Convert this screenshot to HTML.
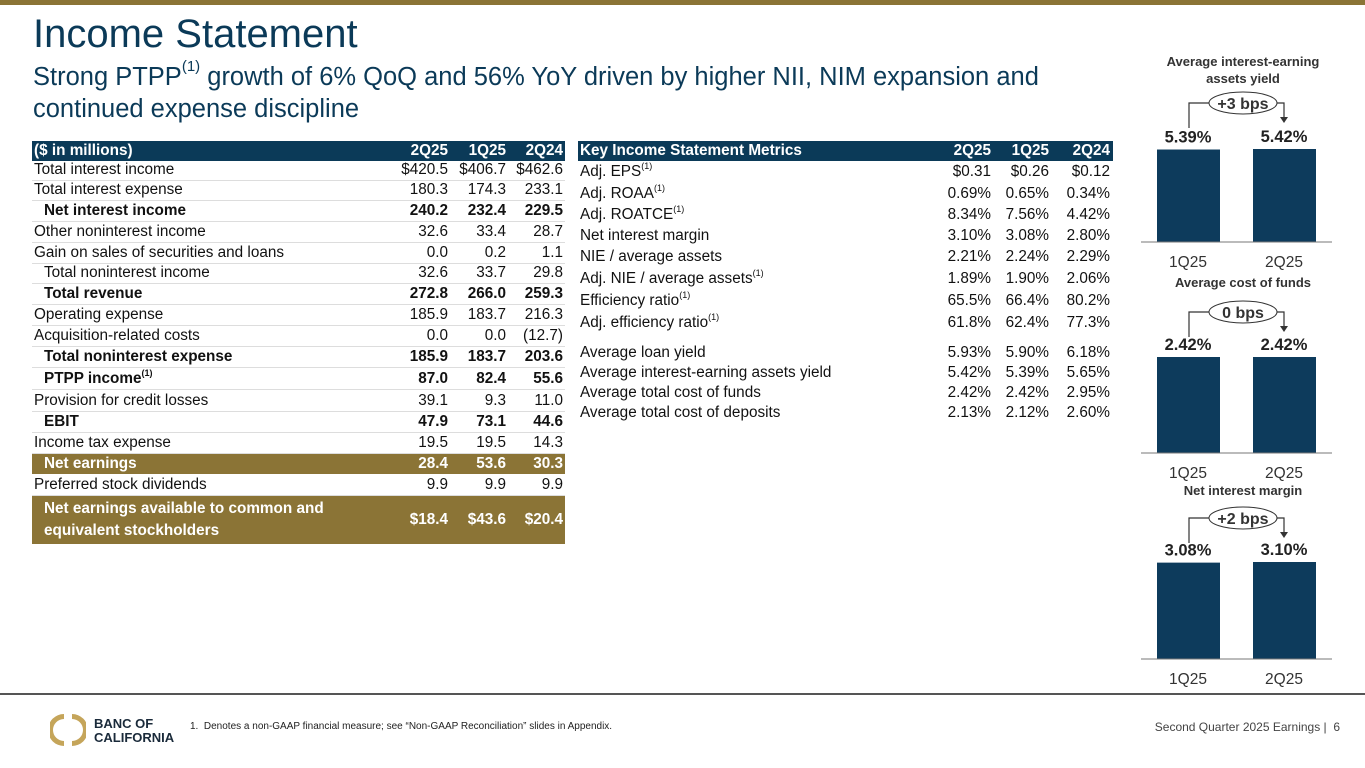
<!DOCTYPE html>
<html><head><meta charset="utf-8">
<style>
body{margin:0;width:1365px;height:768px;overflow:hidden;background:#fff;font-family:"Liberation Sans",Arial,sans-serif;position:relative;color:#111}
.a{position:absolute;white-space:nowrap}
.row{position:absolute;height:20px;font-size:15.3px;line-height:20px;color:#111}
.row span{position:absolute;top:0}
.row sup{font-size:9px;vertical-align:top;line-height:0;position:relative;top:4px}
.hdr{background:#0b3a58;color:#fff;font-weight:bold}
.gold{background:#8b7436;color:#fff;font-weight:bold}
.b{font-weight:bold}
</style></head><body>
<div class="a" style="left:0;top:0;width:1365px;height:5px;background:#8b7436"></div>
<div class="a" style="left:33px;top:12px;font-size:40px;color:#0b3a58">Income Statement</div>
<div class="a" style="left:33px;top:61px;font-size:25.5px;line-height:32px;color:#0b3a58">Strong PTPP<sup style="font-size:15px;vertical-align:top;line-height:0;position:relative;top:6px">(1)</sup> growth of 6% QoQ and 56% YoY driven by higher NII, NIM expansion and<br>continued expense discipline</div>

<div id="left"></div>
<div id="right"></div>

<svg id="charts" class="a" style="left:1130px;top:0" width="235" height="700"></svg>

<div class="a" style="left:0;top:693px;width:1365px;height:2px;background:#555"></div>
<svg class="a" style="left:50px;top:712px" width="36" height="36">
<path d="M14 2 A16 16 0 0 0 14 34 L14 29 A11 11 0 0 1 14 7 Z" fill="#c5a55a"/>
<path d="M22 2 A16 16 0 0 1 22 34 L22 29 A11 11 0 0 0 22 7 Z" fill="#c5a55a"/>
</svg>
<div class="a" style="left:94px;top:717px;font-size:13px;font-weight:bold;line-height:14px;color:#1a2a3a">BANC OF<br>CALIFORNIA</div>
<div class="a" style="left:190px;top:721px;font-size:10px;color:#222">1.&nbsp; Denotes a non-GAAP financial measure; see “Non-GAAP Reconciliation” slides in Appendix.</div>
<div class="a" style="right:25px;top:720px;font-size:12px;color:#444">Second Quarter 2025 Earnings |&nbsp; 6</div>

<script>
const leftRows=[
["($ in millions)","2Q25","1Q25","2Q24","hdr",151],
["Total interest income","$420.5","$406.7","$462.6","",170],
["Total interest expense","180.3","174.3","233.1","",190],
["Net interest income","240.2","232.4","229.5","b i",211],
["Other noninterest income","32.6","33.4","28.7","",232],
["Gain on sales of securities and loans","0.0","0.2","1.1","",253],
["Total noninterest income","32.6","33.7","29.8","i",273],
["Total revenue","272.8","266.0","259.3","b i",294],
["Operating expense","185.9","183.7","216.3","",315],
["Acquisition-related costs","0.0","0.0","(12.7)","",336],
["Total noninterest expense","185.9","183.7","203.6","b i",357],
["PTPP income<sup>(1)</sup>","87.0","82.4","55.6","b i",379],
["Provision for credit losses","39.1","9.3","11.0","",401],
["EBIT","47.9","73.1","44.6","b i",422],
["Income tax expense","19.5","19.5","14.3","",443],
["Net earnings","28.4","53.6","30.3","gold i",464],
["Preferred stock dividends","9.9","9.9","9.9","",485]
];
const rightRows=[
["Key Income Statement Metrics","2Q25","1Q25","2Q24","hdr",151],
["Adj. EPS<sup>(1)</sup>","$0.31","$0.26","$0.12","",172],
["Adj. ROAA<sup>(1)</sup>","0.69%","0.65%","0.34%","",194],
["Adj. ROATCE<sup>(1)</sup>","8.34%","7.56%","4.42%","",215],
["Net interest margin","3.10%","3.08%","2.80%","",236],
["NIE / average assets","2.21%","2.24%","2.29%","",257],
["Adj. NIE / average assets<sup>(1)</sup>","1.89%","1.90%","2.06%","",279],
["Efficiency ratio<sup>(1)</sup>","65.5%","66.4%","80.2%","",301],
["Adj. efficiency ratio<sup>(1)</sup>","61.8%","62.4%","77.3%","",323],
["Average loan yield","5.93%","5.90%","6.18%","",353],
["Average interest-earning assets yield","5.42%","5.39%","5.65%","",373],
["Average total cost of funds","2.42%","2.42%","2.95%","",393],
["Average total cost of deposits","2.13%","2.12%","2.60%","",413]
];
function buildTable(host,rows,x0,w,cols,line){
  rows.forEach((r,i)=>{
    const d=document.createElement('div');
    
    
    const cls=r[4];
    d.className='row '+(cls.includes('hdr')?'hdr':'')+(cls.includes('gold')?' gold':'')+(cls.includes('b')&&!cls.includes('hdr')?' b':'');
    d.style.left=x0+'px';d.style.width=w+'px';d.style.top=(r[5]-10)+'px';
    if(line&&i>0&&!cls.includes('gold'))d.style.borderBottom='1px solid #ddd';
    const ind=cls.includes('i')?12:2;
    let h=`<span style="left:${ind}px">${r[0]}</span>`;
    for(let c=0;c<3;c++)h+=`<span style="right:${x0+w-cols[c]}px">${r[c+1]}</span>`;
    d.innerHTML=h;host.appendChild(d);
  });
}
buildTable(document.getElementById('left'),leftRows,32,533,[448,506,563],true);
buildTable(document.getElementById('right'),rightRows,578,535,[991,1049,1110],false);
const last=document.createElement('div');


last.className='row gold';
last.style.cssText='left:32px;width:533px;top:496px;height:48px;line-height:22px';
last.innerHTML='<span style="left:12px;top:2px">Net earnings available to common and<br>equivalent stockholders</span><span style="right:117px;top:13px">$18.4</span><span style="right:59px;top:13px">$43.6</span><span style="right:2px;top:13px">$20.4</span>';
document.getElementById('left').appendChild(last);

// charts
const chartTitles=[["Average interest-earning","assets yield"],["Average cost of funds"],["Net interest margin"]];
const chartCategories=["1Q25","2Q25"];
const yieldValues=[5.39,5.42];
const costValues=[2.42,2.42];
const nimValues=[3.08,3.10];
const changeLabels=["+3 bps","0 bps","+2 bps"];
const series=[yieldValues,costValues,nimValues];
const layout=[{t:62,bub:103,base:242,h:93},{t:283,bub:312,base:453,h:96},{t:491,bub:518,base:659,h:97}];
const svg=document.getElementById('charts');const NS='http://www.w3.org/2000/svg';
function el(tag,attrs,txt){const e=document.createElementNS(NS,tag);for(const k in attrs)e.setAttribute(k,attrs[k]);if(txt!=null)e.textContent=txt;svg.appendChild(e);return e;}
const ox=1130;
const xPos=i=>1157+i*96-ox;
series.forEach((vals,ci)=>{
  const L=layout[ci];const mx=Math.max(...vals);
  const yS=v=>L.h*v/mx;
  chartTitles[ci].forEach((t,k)=>{const e=el('text',{x:1243-ox,y:L.t+4+k*17,'text-anchor':'middle','font-size':13,'font-weight':'bold',fill:'#333'},t);
    });
  const b=el('ellipse',{cx:1243-ox,cy:L.bub,rx:34,ry:11,fill:'#fff',stroke:'#333','stroke-width':1});
  
  el('path',{d:`M${1189-ox} ${L.bub+25} V${L.bub} H${1209-ox} M${1277-ox} ${L.bub} H${1284-ox} V${L.bub+16}`,fill:'none',stroke:'#333','stroke-width':1.2});
  el('path',{d:`M${1280-ox} ${L.bub+14} L${1288-ox} ${L.bub+14} L${1284-ox} ${L.bub+20} Z`,fill:'#333'});
  const bl=el('text',{x:1243-ox,y:L.bub+6,'text-anchor':'middle','font-size':16,'font-weight':'bold',fill:'#333'},changeLabels[ci]);
  
  vals.forEach((v,i)=>{
    const h=yS(v);
    const r=el('rect',{x:xPos(i),y:L.base-h,width:63,height:h,fill:'#0d3b5c'});
    
    
    const t=el('text',{x:xPos(i)+31,y:L.base-h-7,'text-anchor':'middle','font-size':16.5,'font-weight':'bold',fill:'#222'},v.toFixed(2)+'%');
    
    const c=el('text',{x:xPos(i)+31,y:L.base+25,'text-anchor':'middle','font-size':15.5,fill:'#333'},chartCategories[i]);
    
  });
  const ax=el('line',{x1:1141-ox,x2:1332-ox,y1:L.base,y2:L.base,stroke:'#777','stroke-width':1});
  
});
</script>
</body></html>
